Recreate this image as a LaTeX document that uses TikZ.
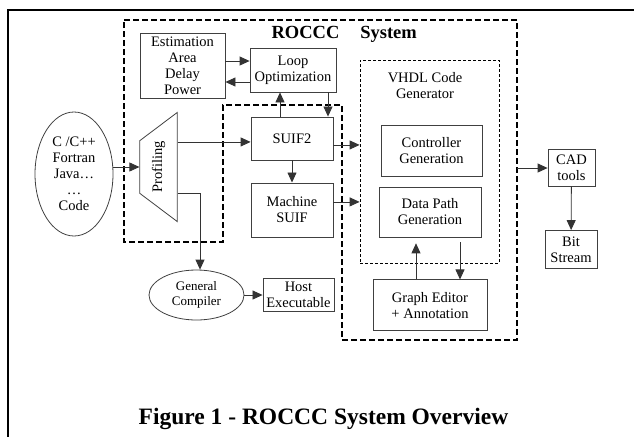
\documentclass[tikz,border=0pt]{standalone}
\usepackage{fontspec}
\setmainfont{Liberation Serif}
\usetikzlibrary{shapes.geometric,arrows.meta,positioning}

\begin{document}
\begin{tikzpicture}[x=1pt,y=-1pt,block/.style={rectangle, draw=black!75, line width=0.8pt, align=center, inner sep=1pt, font=\fontsize{14.5}{16}\selectfont},blob/.style={ellipse, draw=black!75, line width=0.8pt, align=center, inner sep=0pt, font=\fontsize{14.5}{16}\selectfont},funnel/.style={trapezium, trapezium stretches body, trapezium angle=53, rotate=90, draw=black!75, line width=0.8pt, inner xsep=0pt, inner ysep=12pt, minimum width=109pt, font=\fontsize{14.5}{16}\selectfont},arr/.style={-{Triangle[length=10pt,width=9pt]}, draw=black!80, line width=0.8pt},sysline/.style={line width=2pt, dash pattern=on 6pt off 3pt},genline/.style={draw, line width=0.8pt, dash pattern=on 3pt off 2pt},]
            \useasboundingbox (0,0) rectangle (634,437);
            \draw[line width=2pt] (634,10) -- (8,10) -- (8,437);
            % ROCCC system outline
            \draw[sysline] (124,20) -- (517,20) -- (517,340) -- (342,340) -- (342,105) -- (223,105) -- (223,242) -- (124,242) -- cycle;
            \coordinate (sysR) at (517,168);
            \node[font=\bfseries\fontsize{18.5}{20}\selectfont, anchor=base west] (title) at (268,38) {ROCCC\hspace{21pt}System};
            \node[blob, minimum width=78pt, minimum height=124pt] (code) at (74,174) {C /C++\\Fortran\\Java\ldots\\\ldots\\Code};
            \node[funnel] (prof) at (158.5,167) {Profiling};
            \node[block, minimum width=86pt, minimum height=44pt] (loop) at (293,70) {Loop\\Optimization};
            \node[block, minimum width=85pt, minimum height=65pt, left of=loop, xshift=-82pt, yshift=4.5pt] (est) {Estimation\\Area\\Delay\\Power};
            \node[block, minimum width=82pt, minimum height=43pt, below of=loop, yshift=-40pt, xshift=-1pt] (suif) {SUIF2};
            \node[block, minimum width=82pt, minimum height=54pt, below of=suif, yshift=-43pt] (msuif) {Machine\\SUIF};
            \node[blob, minimum width=95pt, minimum height=50pt, font=\fontsize{13}{15}\selectfont] (gc) at (196.5,295) {General\\Compiler};
            \node[block, minimum width=71pt, minimum height=33pt, right of=gc, xshift=73.5pt] (host) {Host\\Executable};
            % VHDL generator
            \node[genline, minimum width=139pt, minimum height=203pt] (vhdl) at (429.5,161.5) {};
            \node[align=center, inner sep=0pt, font=\fontsize{14.5}{16}\selectfont] (vtitle) at (425,86) {VHDL Code\\Generator};
            \node[block, minimum width=101pt, minimum height=51pt, below of=vtitle, yshift=-36pt, xshift=6.5pt] (ctrl) {Controller\\Generation};
            \node[block, minimum width=102pt, minimum height=50pt, below of=ctrl, yshift=-33pt, xshift=-1.5pt] (dp) {Data Path\\Generation};
            \node[block, minimum width=114pt, minimum height=51pt, below of=dp, yshift=-65pt] (ge) {Graph Editor\\+ Annotation};
            \node[block, minimum width=47pt, minimum height=37pt] (cad) at (571.5,167.5) {CAD\\tools};
            \node[block, minimum width=52pt, minimum height=38pt, below of=cad, yshift=-53.5pt, xshift=-0.5pt] (bit) {Bit\\Stream};
            \node[font=\bfseries\fontsize{23.5}{26}\selectfont, anchor=base] (caption) at (323.5,424) {Figure 1 - ROCCC System Overview};
            \coordinate (tap) at ([yshift=-26pt]prof.south);
            \draw[arr] (code.east |- prof.north) -- (prof.north);
            \draw[arr] ([yshift=-3.5pt]suif.west -| prof.south) -- ([yshift=-3.5pt]suif.west);
            \draw[arr] (tap) -| ([xshift=3.5pt]gc.north);
            \draw[arr] (gc) -- (host);
            \draw[arr] ([yshift=4.5pt]est.east) -- ([yshift=4.5pt]est.east -| loop.west);
            \draw[arr] ([yshift=-16.5pt]est.east -| loop.west) -- ([yshift=-16.5pt]est.east);
            \draw[arr] ([xshift=-12pt]suif.north) -- ([xshift=-12pt]suif.north |- loop.south);
            \draw[arr] ([xshift=35pt]loop.south) -- ([xshift=35pt]loop.south |- suif.north);
            \draw[arr] (suif) -- (msuif);
            \draw[arr] ([yshift=-6.5pt]suif.east) -- ([yshift=-6.5pt]suif.east -| vhdl.west);
            \draw[arr] ([yshift=8pt]msuif.east) -- ([yshift=8pt]msuif.east -| vhdl.west);
            \draw[arr] ([xshift=-14pt]dp.south |- ge.north) -- ([xshift=-14pt,yshift=-6pt]dp.south);
            \draw[arr] ([xshift=30pt,yshift=-5pt]dp.south) -- ([xshift=30pt]dp.south |- ge.north);
            \draw[arr] (sysR) -- (sysR -| cad.west);
            \draw[arr] (cad) -- (bit);
        \end{tikzpicture}
\end{document}
